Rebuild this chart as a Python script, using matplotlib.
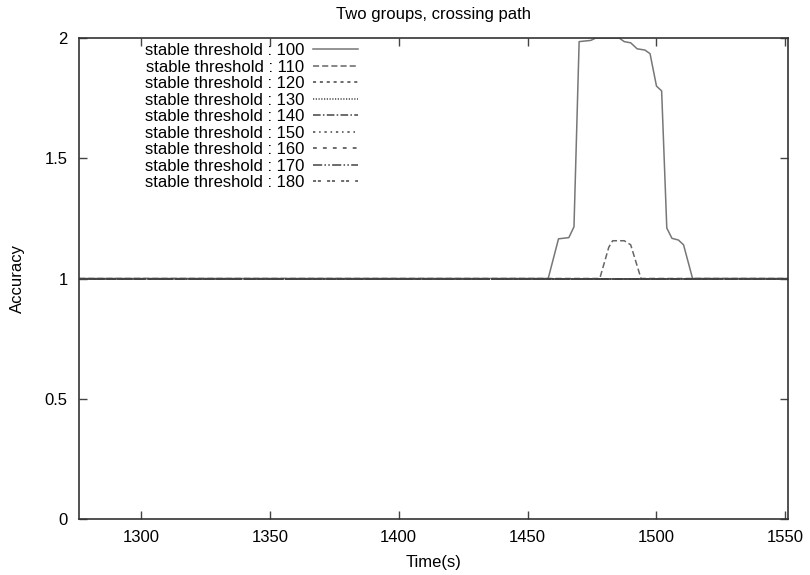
import matplotlib
matplotlib.use("Agg")
import matplotlib.pyplot as plt

plt.rcParams['font.family'] = ['Liberation Sans', 'DejaVu Sans']

# time range covered by the runs
t_start = 1276
t_end = 1551

# threshold 100: big bump around 1460-1514
t_100 = [1276, 1458, 1462, 1466, 1468, 1470, 1474.5, 1476.5, 1485.5, 1487.5,
         1490, 1492.5, 1495.5, 1497.5, 1500, 1502, 1504, 1506, 1508.5, 1510.5,
         1514, 1551]
acc_100 = [1.0, 1.0, 1.165, 1.17, 1.215, 1.985, 1.99, 2.0, 2.0, 1.985,
           1.98, 1.955, 1.95, 1.935, 1.8, 1.78, 1.21, 1.167, 1.16, 1.14,
           1.0, 1.0]

# threshold 110: small bump around 1478-1494
t_110 = [1276, 1478, 1481.5, 1483, 1487.5, 1490, 1494, 1551]
acc_110 = [1.0, 1.0, 1.13, 1.157, 1.157, 1.14, 1.0, 1.0]

# thresholds 120..180 stay at 1 the whole time
flat_thresholds = [120, 130, 140, 150, 160, 170, 180]
t_flat = [t_start, t_end]
acc_flat = [1.0, 1.0]

styles = {
    100: '-',
    110: (0, (4, 2)),
    120: (0, (2, 2.5)),
    130: (0, (0.8, 1)),
    140: (0, (5, 1.5, 1, 1.5)),
    150: (0, (1.5, 2.5, 1, 2.5)),
    160: (0, (2.5, 4)),
    170: (0, (6, 1.5, 1, 1.5, 1, 1.5)),
    180: (0, (2, 1.2, 2, 4)),
}

fig = plt.figure(figsize=(8.1, 5.75), dpi=100)
ax = fig.add_axes([0.0975, 0.0974, 0.8753, 0.8365])

ax.plot(t_100, acc_100, linestyle=styles[100], color='#777777', lw=1.1,
        label='stable threshold : 100')
ax.plot(t_110, acc_110, linestyle=styles[110], color='#666666', lw=1.1,
        label='stable threshold : 110')
for th in flat_thresholds:
    ax.plot(t_flat, acc_flat, linestyle=styles[th], color='#444444', lw=1.1,
            label='stable threshold : %d' % th)

ax.set_xlim(t_start, t_end)
ax.set_ylim(0, 2)
ax.set_xticks([1300, 1350, 1400, 1450, 1500, 1550])
ax.set_yticks([0, 0.5, 1, 1.5, 2])
ax.set_yticklabels(['0', '0.5', '1', '1.5', '2'])
ax.tick_params(direction='in', top=True, right=True, length=6, width=1,
               labelsize=12, pad=8, color='#444444')
for s in ax.spines.values():
    s.set_linewidth(1.2)
    s.set_color('#333333')

ax.set_title('Two groups, crossing path', fontsize=12, pad=14)
ax.set_xlabel('Time(s)', fontsize=12, labelpad=7)
ax.set_ylabel('Accuracy', fontsize=12, labelpad=14)

ax.legend(loc='upper left', bbox_to_anchor=(0.078, 1.012), frameon=False,
          markerfirst=False, fontsize=12, handlelength=2.7, handletextpad=0.5,
          labelspacing=0.09, borderaxespad=0.25)

fig.savefig('out.png', dpi=100)
